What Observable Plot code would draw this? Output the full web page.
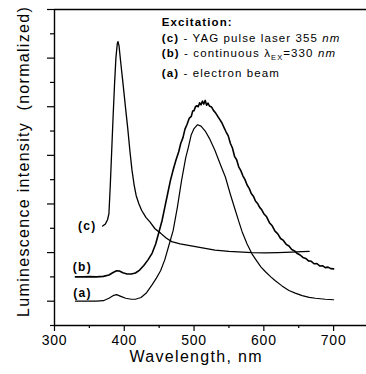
<!DOCTYPE html>
<html>
<head>
<meta charset="utf-8">
<script src="https://cdn.jsdelivr.net/npm/d3@7"></script>
<script src="https://cdn.jsdelivr.net/npm/@observablehq/plot@0.6"></script>
<style>
  html, body { margin: 0; padding: 0; background: #fff; overflow: hidden; }
  #chart { width: 366px; height: 374px; }
  svg { font-family: "Liberation Sans", Arial, sans-serif; }
</style>
</head>
<body>
<div id="chart"></div>
<script>
// ---- data (wavelength nm, normalized intensity with vertical offsets) ----
const waveA = [330,345,360,370,378,385,389,395,402,410,416,424,432,440,446,452,458,464,470,476,482,488,492,496,500,505,510,516,522,530,538,545,552,559,565,569,576,583,590,596,602,610,616,626,636,645,655,665,674,688,700];
const intA  = [1.00,1.00,1.00,1.02,1.12,1.24,1.27,1.20,1.12,1.08,1.08,1.15,1.35,1.68,1.95,2.25,2.70,3.30,3.90,4.85,5.95,6.90,7.35,7.85,8.10,8.26,8.20,8.00,7.70,7.20,6.60,6.10,5.40,4.75,4.20,3.85,3.35,2.95,2.65,2.40,2.22,2.00,1.85,1.63,1.44,1.33,1.23,1.16,1.12,1.08,1.06];

const waveB = [330,340,350,360,370,378,384,389,393,398,404,410,416,422,428,434,440,445,450,454,458,462,466,470,474,478,481,484,487,490,493,496,498,500,502,504,506,508,510,512,514,516,518,520,522,525,528,531,534,537,540,543,546,549,552,555,558,561,564,567,570,573,576,579,582,585,588,591,594,597,600,604,608,612,616,620,624,628,632,636,640,644,648,652,656,660,664,668,672,676,680,684,688,692,696,700];
const intB  = [2.00,2.00,2.01,2.00,2.02,2.08,2.18,2.25,2.24,2.17,2.12,2.12,2.16,2.28,2.47,2.70,2.98,3.35,3.88,4.30,4.85,5.40,5.95,6.40,6.80,7.15,7.50,7.72,8.08,8.28,8.52,8.60,8.82,8.84,9.00,9.04,9.00,9.16,9.08,9.23,9.11,9.26,9.06,9.15,9.03,8.99,8.84,8.74,8.60,8.47,8.33,8.14,7.96,7.80,7.50,7.30,6.96,6.82,6.53,6.37,6.16,6.00,5.78,5.64,5.43,5.32,5.12,5.02,4.86,4.76,4.60,4.47,4.23,4.10,3.88,3.77,3.58,3.50,3.34,3.27,3.13,3.07,2.96,2.90,2.80,2.76,2.66,2.64,2.54,2.55,2.45,2.46,2.38,2.40,2.34,2.33];

const waveC = [369,373,376,378,380,382,384,386,388,390,391,392.5,395,398,402,405,408,411,414,417,421,425,431,437,444,452,460,468,480,492,510,530,550,583,602,620,640,655,665];
const intC  = [4.09,4.18,4.35,4.60,5.80,7.20,8.60,9.90,11.00,11.60,11.68,11.50,10.80,10.00,8.90,8.10,7.20,6.40,5.80,5.35,5.00,4.73,4.45,4.25,3.98,3.80,3.60,3.45,3.36,3.30,3.20,3.10,3.05,3.00,2.99,3.00,3.02,3.04,3.05];

// axis ticks
const xMajor = [300,400,500,600,700];
const xMinor = [350,450,550,650,750];
const yMajor = [1,3,5,7,9,11,13];
const yMinor = [0,2,4,6,8,10,12];

// curve labels
const curveLabels = ["(a)","(b)","(c)"];
const curveLabelWave = [340,340,347];
const curveLabelInt  = [1.32,2.39,4.07];

// legend
const legendWave = 454.5;
const legendInt = [12.29,11.66,11.04,10.19];
const legendRows = [
  [{t:"Excitation:", b:true}],
  [{t:"(c)", b:true},{t:" - YAG pulse laser 355 "},{t:"nm", i:true}],
  [{t:"(b)", b:true},{t:" - continuous λ"},{t:"EX", sub:true},{t:"=330 "},{t:"nm", i:true}],
  [{t:"(a)", b:true},{t:" - electron beam"}]
];

const xLabel = "Wavelength, nm";
const yLabel = "Luminescence intensity  (normalized)";

const toRows = (w, v, s) => w.map((d, i) => ({wave: d, val: v[i], s}));
const rows = [...toRows(waveA, intA, "a"), ...toRows(waveB, intB, "b"), ...toRows(waveC, intC, "c")];
const labelRows = curveLabels.map((t, i) => ({t, wave: curveLabelWave[i], val: curveLabelInt[i]}));

const plot = Plot.plot({
  width: 366,
  height: 374,
  marginLeft: 54,
  marginRight: 0,
  marginTop: 9,
  marginBottom: 49,
  style: {background: "#fff", color: "#000", fontFamily: "Liberation Sans, Arial, sans-serif"},
  x: {domain: [300, 750], range: [54, 368]},
  y: {domain: [0, 13], range: [325, 9]},
  marks: [
    Plot.axisX({ticks: xMajor, tickSize: 6, tickPadding: 4, fontSize: 14, strokeWidth: 1.2, label: null}),
    Plot.axisX({ticks: xMinor, tickSize: 3, fill: null, strokeWidth: 1.2, label: null}),
    Plot.axisY({ticks: yMajor, tickSize: 7, fill: null, strokeWidth: 1.2, label: null}),
    Plot.axisY({ticks: yMinor, tickSize: 4, fill: null, strokeWidth: 1.2, label: null}),
    Plot.ruleX([300], {strokeWidth: 1.4}),
    Plot.ruleY([0], {strokeWidth: 1.4}),
    Plot.ruleY([13], {strokeWidth: 1.4}),
    Plot.line(rows.filter(d => d.s === "a"), {x: "wave", y: "val", stroke: "#000", strokeWidth: 1.2}),
    Plot.line(rows.filter(d => d.s === "b"), {x: "wave", y: "val", stroke: "#000", strokeWidth: 1.6}),
    Plot.line(rows.filter(d => d.s === "c"), {x: "wave", y: "val", stroke: "#000", strokeWidth: 1.3}),
    Plot.text(labelRows, {x: "wave", y: "val", text: "t", fontSize: 12, fontWeight: "bold", fill: "#000"}),
    Plot.text([xLabel], {x: () => 503, frameAnchor: "bottom", textAnchor: "middle", lineAnchor: "middle", text: d => d, dy: 31, fontSize: 16, fill: "#000"}),
    Plot.text([yLabel], {y: () => 6.75, frameAnchor: "left", textAnchor: "middle", lineAnchor: "middle", text: d => d, dx: -31, rotate: -90, fontSize: 16, fill: "#000"})
  ]
});

const svg = d3.select(plot);
svg.selectAll('g[aria-label="x-axis tick label"] text').attr("letter-spacing", "0.8px");
svg.selectAll('g[aria-label="text"] text').attr("letter-spacing", "1.3px");

// legend with mixed styles, positioned through the plot's scales
const xs = plot.scale("x"), ys = plot.scale("y");
const lg = svg.append("g").attr("aria-label", "legend")
  .attr("font-size", 11.5).attr("letter-spacing", "1.1px").attr("fill", "#000").attr("text-anchor", "start");
legendRows.forEach((row, r) => {
  const txt = lg.append("text").attr("x", xs.apply(legendWave)).attr("y", ys.apply(legendInt[r]));
  let shift = 0;
  row.forEach(seg => {
    const ts = txt.append("tspan").text(seg.t);
    if (seg.b) ts.attr("font-weight", "bold");
    if (seg.i) ts.attr("font-style", "italic");
    if (seg.sub) { ts.attr("font-size", 7.5).attr("dy", 3); shift = 3; }
    else if (shift) { ts.attr("dy", -shift); shift = 0; }
  });
});

document.getElementById("chart").appendChild(plot);
</script>
</body>
</html>
